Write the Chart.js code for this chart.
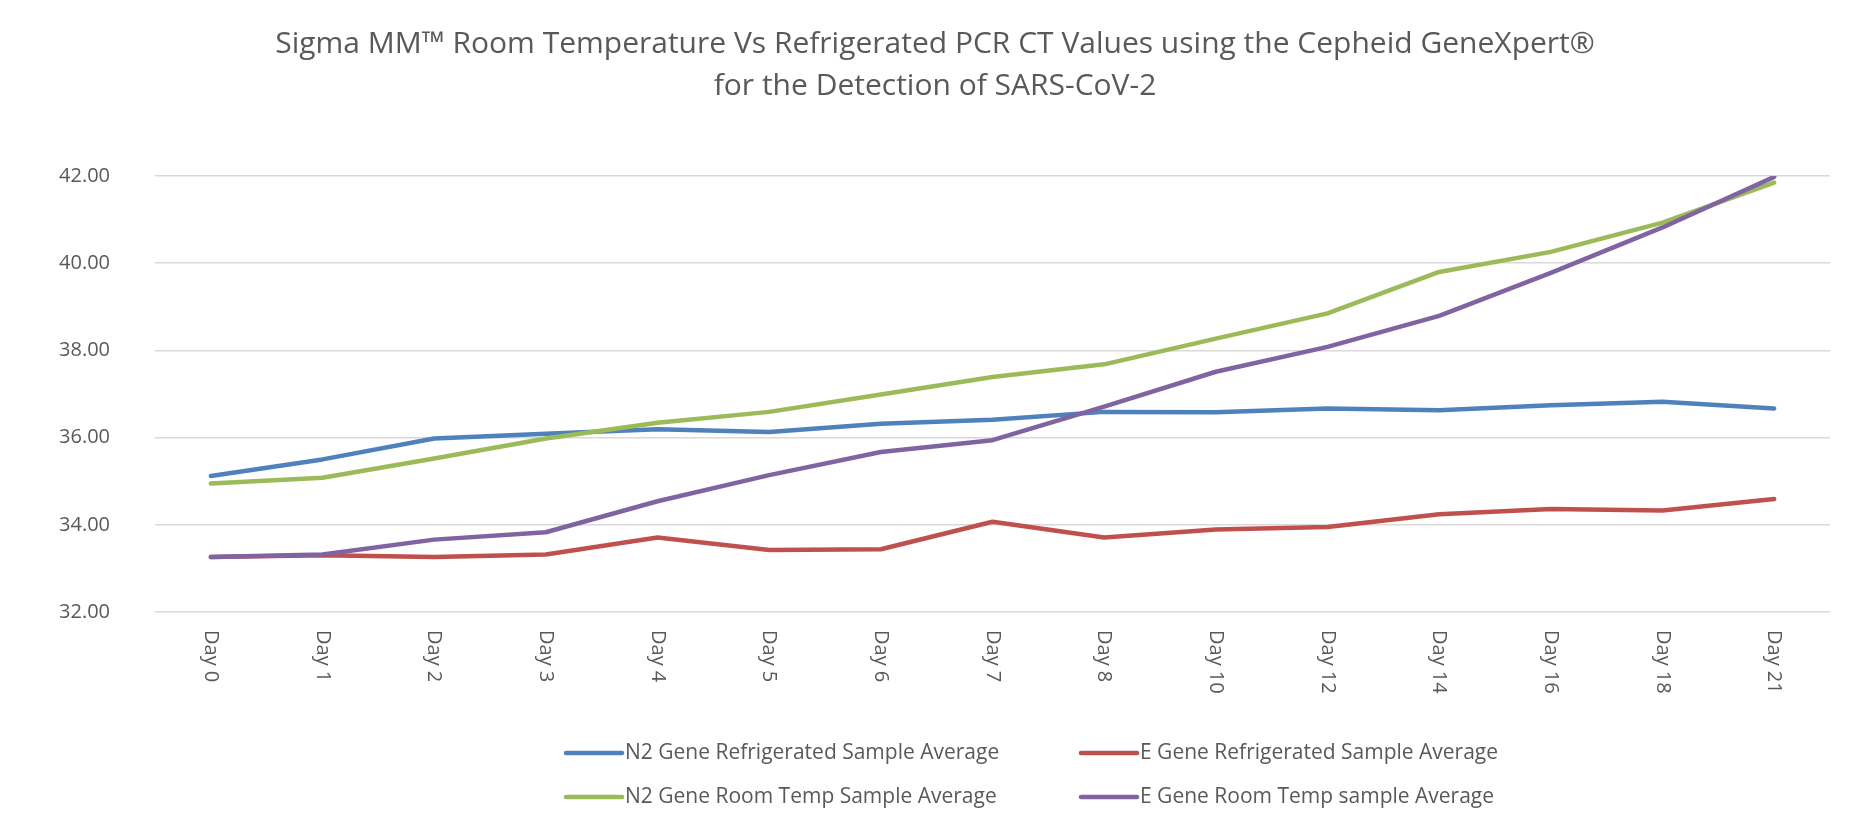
<!DOCTYPE html>
<html>
<head>
<meta charset="utf-8">
<script src="https://cdn.jsdelivr.net/npm/chart.js@4.4.0/dist/chart.umd.min.js"></script>
<style>
    body { margin: 0; background: #ffffff; }
    #graph { display: block; }
</style>
</head>
<body>
<canvas id="graph" width="1876" height="813"></canvas>
<script>
// jours de mesure
const jours = ['Day 0', 'Day 1', 'Day 2', 'Day 3', 'Day 4', 'Day 5', 'Day 6', 'Day 7',
    'Day 8', 'Day 10', 'Day 12', 'Day 14', 'Day 16', 'Day 18', 'Day 21'];

// moyennes CT par série
const n2Frigo = [35.12, 35.50, 35.98, 36.09, 36.19, 36.13, 36.32, 36.41, 36.59, 36.58, 36.67, 36.63, 36.74, 36.82, 36.67];
const eFrigo = [33.26, 33.30, 33.26, 33.32, 33.71, 33.42, 33.44, 34.07, 33.71, 33.89, 33.95, 34.24, 34.36, 34.33, 34.59];
const n2Ambiant = [34.95, 35.08, 35.52, 35.98, 36.34, 36.59, 36.99, 37.39, 37.68, 38.27, 38.85, 39.80, 40.26, 40.93, 41.85];
const eAmbiant = [33.26, 33.32, 33.66, 33.83, 34.54, 35.14, 35.67, 35.94, 36.71, 37.51, 38.08, 38.79, 39.78, 40.82, 41.98];

const noms = ['N2 Gene Refrigerated Sample Average', 'E Gene Refrigerated Sample Average',
    'N2 Gene Room Temp Sample Average', 'E Gene Room Temp sample Average'];

const yTicks = [32, 34, 36, 38, 40, 42];

const gris = '#595959';
const police = "'Open Sans', sans-serif";

function serie(nom, valeurs, couleur, ordre) {
    return {
        label: nom,
        data: valeurs,
        borderColor: couleur,
        backgroundColor: couleur,
        borderWidth: 4.5,
        pointRadius: 0,
        pointHoverRadius: 0,
        tension: 0,
        borderCapStyle: 'round',
        borderJoinStyle: 'round',
        order: ordre
    };
}

// etiquettes de l'axe x, tournées vers le bas (sens horaire)
const etiquettesX = {
    id: 'etiquettesX',
    afterDraw(chart) {
        let ctx = chart.ctx;
        let x = chart.scales.x;
        ctx.save();
        ctx.fillStyle = gris;
        ctx.font = '20px ' + police;
        ctx.textAlign = 'left';
        ctx.textBaseline = 'middle';
        chart.data.labels.forEach((lab, i) => {
            ctx.save();
            ctx.translate(x.getPixelForTick(i), chart.chartArea.bottom + 18);
            ctx.rotate(Math.PI / 2);
            ctx.fillText(lab, 0, 0);
            ctx.restore();
        });
        ctx.restore();
    }
};

// légende sur deux colonnes
const legende = {
    id: 'legende',
    afterDraw(chart) {
        let ctx = chart.ctx;
        let colonnes = [566, 1081];
        let lignes = [chart.chartArea.bottom + 141, chart.chartArea.bottom + 185];
        ctx.save();
        ctx.font = '21px ' + police;
        ctx.textBaseline = 'middle';
        ctx.textAlign = 'left';
        chart.data.datasets.forEach((ds, i) => {
            let x = colonnes[i % 2];
            let y = lignes[Math.floor(i / 2)];
            ctx.strokeStyle = ds.borderColor;
            ctx.lineWidth = 4.5;
            ctx.lineCap = 'round';
            ctx.beginPath();
            ctx.moveTo(x, y);
            ctx.lineTo(x + 56, y);
            ctx.stroke();
            ctx.fillStyle = gris;
            ctx.fillText(ds.label, x + 59, y);
        });
        ctx.restore();
    }
};

let ctx = document.getElementById('graph').getContext('2d');

let graph = new Chart(ctx, {
    type: 'line',
    data: {
        labels: jours,
        datasets: [
            serie(noms[0], n2Frigo, '#4f81bd', 4),
            serie(noms[1], eFrigo, '#c0504d', 3),
            serie(noms[2], n2Ambiant, '#9bbb59', 2),
            serie(noms[3], eAmbiant, '#8064a2', 1)
        ]
    },
    options: {
        responsive: false,
        devicePixelRatio: 1,
        animation: false,
        layout: {
            padding: { left: 40, right: 46, top: 0, bottom: 91 }
        },
        plugins: {
            legend: { display: false },
            tooltip: { enabled: false },
            title: {
                display: true,
                text: ['Sigma MM\u2122 Room Temperature Vs Refrigerated PCR CT Values using the Cepheid GeneXpert\u00ae',
                    'for the Detection of SARS-CoV-2'],
                color: gris,
                font: { family: police, size: 30, weight: 'normal', lineHeight: 1.4 },
                padding: { top: 23, bottom: 69 }
            }
        },
        scales: {
            x: {
                offset: true,
                grid: { display: false },
                border: { display: false },
                ticks: { display: false },
                afterFit(scale) { scale.height = 110; }
            },
            y: {
                min: 32,
                max: 42,
                afterBuildTicks(scale) {
                    scale.ticks = yTicks.map(v => ({ value: v }));
                },
                grid: { color: '#d9d9d9', lineWidth: 1.5, drawTicks: false },
                border: { display: false },
                ticks: {
                    color: gris,
                    font: { family: police, size: 20 },
                    padding: 45,
                    callback: v => v.toFixed(2)
                },
                afterFit(scale) { scale.width = 115; }
            }
        }
    },
    plugins: [etiquettesX, legende]
});
</script>
</body>
</html>
